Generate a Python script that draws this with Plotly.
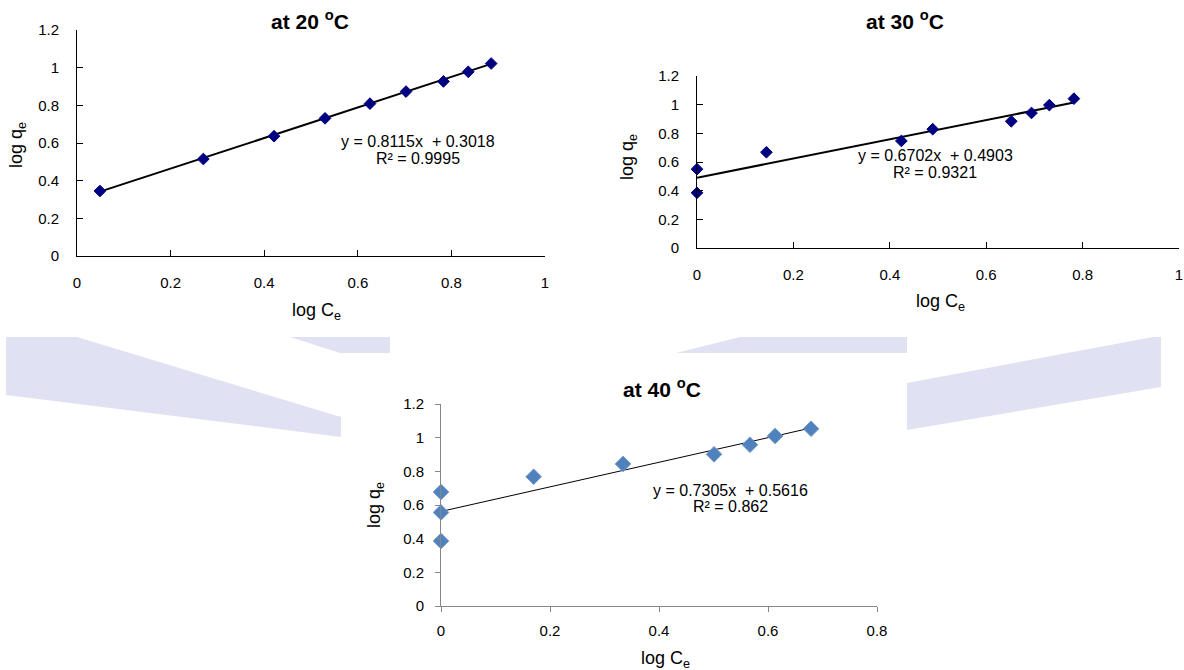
import plotly.graph_objects as go

W, H = 1184, 670

# ---- data ----
x20 = [0.049, 0.270, 0.421, 0.530, 0.626, 0.703, 0.783, 0.836, 0.885]
y20 = [0.345, 0.515, 0.636, 0.731, 0.809, 0.873, 0.927, 0.978, 1.022]
slope20, icpt20, r2_20 = 0.8115, 0.3018, "0.9995"

x30 = [0.0, 0.0, 0.144, 0.424, 0.489, 0.652, 0.694, 0.731, 0.782]
y30 = [0.550, 0.385, 0.668, 0.747, 0.829, 0.884, 0.942, 0.997, 1.042]
slope30, icpt30, r2_30 = 0.6702, 0.4903, "0.9321"

x40 = [0.0, 0.0, 0.0, 0.170, 0.334, 0.501, 0.567, 0.613, 0.679]
y40 = [0.677, 0.556, 0.386, 0.768, 0.844, 0.901, 0.958, 1.010, 1.053]
slope40, icpt40, r2_40 = 0.7305, 0.5616, "0.862"

titles = ["at 20 <sup>o</sup>C", "at 30 <sup>o</sup>C", "at 40 <sup>o</sup>C"]
xtitle = "log C<sub>e</sub>"
ytitle = "log q<sub>e</sub>"

FONT = "Liberation Sans, Arial, sans-serif"


def px(x):
    return x / W


def py(y):
    return 1 - y / H


def fit_line(xs, m, b):
    xa, xb = min(xs), max(xs)
    return [xa, xb], [m * xa + b, m * xb + b]


fig = go.Figure()

navy = "#000080"
blue = "#4F81BD"

# chart 1
lx, ly = fit_line(x20, slope20, icpt20)
fig.add_trace(go.Scatter(x=lx, y=ly, mode="lines", line=dict(color="black", width=2),
                         xaxis="x", yaxis="y", showlegend=False, hoverinfo="skip"))
fig.add_trace(go.Scatter(x=x20, y=y20, mode="markers", cliponaxis=False,
                         marker=dict(symbol="diamond", size=9, color=navy, line=dict(color=navy, width=1)),
                         xaxis="x", yaxis="y", showlegend=False))
# chart 2
lx, ly = fit_line(x30, slope30, icpt30)
fig.add_trace(go.Scatter(x=lx, y=ly, mode="lines", line=dict(color="black", width=2),
                         xaxis="x2", yaxis="y2", showlegend=False, hoverinfo="skip"))
fig.add_trace(go.Scatter(x=x30, y=y30, mode="markers", cliponaxis=False,
                         marker=dict(symbol="diamond", size=9, color=navy, line=dict(color=navy, width=1)),
                         xaxis="x2", yaxis="y2", showlegend=False))
# chart 3
lx, ly = fit_line(x40, slope40, icpt40)
fig.add_trace(go.Scatter(x=lx, y=ly, mode="lines", line=dict(color="black", width=1),
                         xaxis="x3", yaxis="y3", showlegend=False, hoverinfo="skip"))
fig.add_trace(go.Scatter(x=x40, y=y40, mode="markers", cliponaxis=False,
                         marker=dict(symbol="diamond", size=12, color=blue, line=dict(color="#7399cc", width=1)),
                         xaxis="x3", yaxis="y3", showlegend=False))


def axis(domain, rng, anchor, color, ticks, standoff):
    return dict(domain=domain, range=rng, dtick=0.2, anchor=anchor, tickformat="~g",
                showgrid=False, zeroline=False, showline=True, linecolor=color, linewidth=1,
                ticks=ticks, ticklen=6 if ticks == "inside" else 5, tickcolor=color, tickwidth=1,
                ticklabelstandoff=standoff, automargin=False,
                tickfont=dict(family=FONT, size=15, color="black"),
                fixedrange=True)


fig.update_layout(
    width=W, height=H,
    margin=dict(l=0, r=0, t=0, b=0),
    paper_bgcolor="white", plot_bgcolor="rgba(0,0,0,0)",
    font=dict(family=FONT, color="black"),
    xaxis=axis([px(77), px(545)], [0, 1], "y", "black", "inside", 13),
    yaxis=axis([py(256), py(30)], [0, 1.2], "x", "black", "inside", 14),
    xaxis2=axis([px(697), px(1179)], [0, 1], "y2", "black", "inside", 13),
    yaxis2=axis([py(248), py(76)], [0, 1.2], "x2", "black", "inside", 14),
    xaxis3=axis([px(441), px(877)], [0, 0.8], "y3", "#868686", "outside", 6),
    yaxis3=axis([py(606), py(404)], [0, 1.2], "x3", "#868686", "outside", 8),
)

# ---- background watermark ----
lav = "#dedef3"
polys = [
    [(6, 337), (77, 337), (341, 417), (341, 437), (6, 395)],
    [(290, 337), (390, 337), (390, 353), (340, 353)],
    [(676, 353), (740, 337), (907, 337), (907, 353)],
    [(907, 383), (1153, 337), (1161, 337), (1161, 387), (907, 430)],
]
shapes = []
for p in polys:
    path = "M " + " L ".join(f"{px(a):.5f},{py(b):.5f}" for a, b in p) + " Z"
    shapes.append(dict(type="path", path=path, xref="paper", yref="paper",
                       fillcolor=lav, line=dict(width=0), layer="below", opacity=0.9))
shapes.append(dict(type="rect", xref="paper", yref="paper", x0=px(341), x1=px(907),
                   y0=py(670), y1=py(353), fillcolor="white", line=dict(width=0), layer="below"))
fig.update_layout(shapes=shapes)

# ---- text ----
ann = []


def txt(x, y, text, size, bold=False, angle=0):
    ann.append(dict(x=px(x), y=py(y), xref="paper", yref="paper", text=f"<b>{text}</b>" if bold else text,
                    showarrow=False, textangle=angle, xanchor="center", yanchor="middle",
                    font=dict(family=FONT, size=size, color="black")))


# titles
txt(310, 20, titles[0], 21, bold=True)
txt(905, 20, titles[1], 21, bold=True)
txt(662, 388, titles[2], 21, bold=True)
# axis titles
txt(316, 312, xtitle, 18)
txt(18, 145, ytitle, 18, angle=-90)
txt(940, 302, xtitle, 18)
txt(628, 157, ytitle, 18, angle=-90)
txt(665, 659, xtitle, 18)
txt(376, 505, ytitle, 18, angle=-90)

# equations
eqs = [
    (418, 141, 158, slope20, icpt20, r2_20),
    (935, 156, 172, slope30, icpt30, r2_30),
    (730, 490, 506, slope40, icpt40, r2_40),
]
for x, ye, yr, m, b, r2 in eqs:
    txt(x, ye, f"y = {m:.4f}x&nbsp; + {b:.4f}", 16)
    txt(x, yr, f"R² = {r2}", 16)

fig.update_layout(annotations=ann)

fig.write_html("out.html", config={"displayModeBar": False},
               post_script="document.body.style.margin='0';document.body.style.overflow='hidden';")
